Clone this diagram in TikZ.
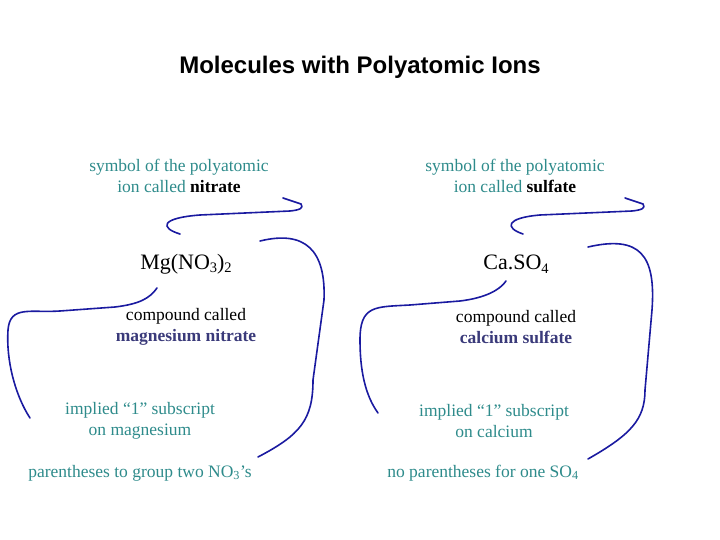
\documentclass[tikz,border=0pt]{standalone}
\usepackage{fontspec}
\setmainfont{Liberation Serif}
\newfontfamily\titlefont{Liberation Sans}
\definecolor{tealt}{HTML}{2E8B8B}
\definecolor{slate}{HTML}{3A3A7A}
\definecolor{arr}{HTML}{1A1AA0}
\newcommand{\lowsub}[1]{\raisebox{-0.35ex}{\fontsize{14.5}{14.5}\selectfont #1}}
\begin{document}
\begin{tikzpicture}[x=1pt,y=-1pt,
  lbl/.style={font=\fontsize{17.5}{21.5}\selectfont,align=center,inner sep=0},
  formula/.style={font=\fontsize{22}{24}\selectfont,inner sep=0},
  curve/.style={arr,line width=1.6pt,line cap=round,line join=round}]
\useasboundingbox (0,0) rectangle (720,540);
\node[font=\titlefont\fontsize{24}{28}\selectfont\bfseries] (title) at (360,67) {Molecules with Polyatomic Ions};
\node[lbl,tealt] (symL) at (179,176) {symbol of the polyatomic\\ion called \textcolor{black}{\textbf{nitrate}}};
\node[lbl,tealt] (symR) at (515,176) {symbol of the polyatomic\\ion called \textcolor{black}{\textbf{sulfate}}};
\node[formula] (mg) at (186,264) {Mg(NO\lowsub{3})\lowsub{2}};
\node[formula] (ca) at (516,264) {Ca.SO\lowsub{4}};
\node[lbl] (cmpL) at (186,327) {compound called\\\textcolor{slate}{\textbf{magnesium nitrate}}};
\node[lbl] (cmpR) at (516,327) {compound called\\\textcolor{slate}{\textbf{calcium sulfate}}};
\node[lbl,tealt] (impL) at (140,421) {implied ``1'' subscript\\on magnesium};
\node[lbl,tealt] (impR) at (494,421) {implied ``1'' subscript\\on calcium};
\node[lbl,tealt] (parL) at (140,473) {parentheses to group two NO\textsubscript{3}'s};
\node[lbl,tealt] (parR) at (483,473) {no parentheses for one SO\textsubscript{4}};
% left curves
\draw[curve] (283,198) -- (301,204) .. controls (304,208) and (300,210) .. (290,211)
  -- (200,215) .. controls (160,218) and (160,228) .. (180,234);
\draw[curve] (30,418) .. controls (15,395) and (6,360) .. (8,330)
  .. controls (10,305) and (30,313) .. (60,311) -- (115,307)
  .. controls (140,304) and (150,298) .. (157,288);
\draw[curve] (258,457) .. controls (300,435) and (313,420) .. (313,380)
  -- (324,300) .. controls (326,250) and (305,230) .. (260,241);
% right curves
\draw[curve] (625,198) -- (643,204) .. controls (646,208) and (642,210) .. (632,211)
  -- (540,215) .. controls (505,218) and (505,228) .. (523,234);
\draw[curve] (378,413) .. controls (365,395) and (360,370) .. (360,340)
  .. controls (360,305) and (375,307) .. (410,305) -- (460,301)
  .. controls (485,298) and (500,290) .. (506,281);
\draw[curve] (588,459) .. controls (630,435) and (645,420) .. (645,390)
  -- (652,310) .. controls (656,255) and (640,235) .. (588,247);
\end{tikzpicture}
\end{document}
